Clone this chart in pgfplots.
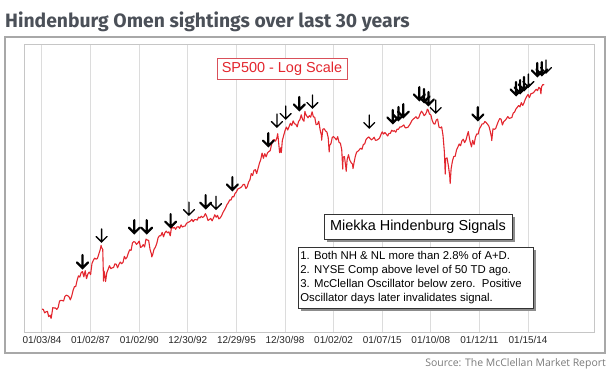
\documentclass[border=0pt]{standalone}
\usepackage{pgfplots}
\pgfplotsset{compat=1.18}
\usepackage{pgfplotstable}
\usepackage{fontspec}
\setmainfont{Liberation Sans}
\newfontfamily\titlefont{Fira Sans}
\newfontfamily\srcfont{Open Sans}
\definecolor{spred}{HTML}{E3262E}
\definecolor{boxred}{HTML}{D9505A}
\definecolor{titlegray}{HTML}{4B5058}
\definecolor{gridgray}{HTML}{DCDCDC}
\definecolor{framegray}{HTML}{A8A8A8}
\definecolor{srcgray}{HTML}{7A7A7A}

\pgfdeclareplotmark{dnarrow}{%
  \pgfpathmoveto{\pgfqpoint{0pt}{0.8pt}}\pgfpathlineto{\pgfqpoint{0pt}{13pt}}%
  \pgfpathmoveto{\pgfqpoint{-5.5pt}{5.5pt}}\pgfpathlineto{\pgfqpoint{0pt}{0pt}}\pgfpathlineto{\pgfqpoint{5.5pt}{5.5pt}}%
  \pgfusepathqstroke}

\pgfplotstableread{
yr mo v
1984 0.1 164.0
1984 1 163.4
1984 2 157.1
1984 3 159.2
1984 4 160.1
1984 5 150.6
1984 6 153.2
1984 6.75 147.8
1984 7 150.7
1984 8 166.7
1984 9 166.1
1984 10 166.1
1984 11 163.6
1984 12 167.2
1985 1 179.6
1985 2 181.2
1985 3 180.7
1985 4 179.8
1985 5 189.6
1985 6 191.9
1985 7 190.9
1985 8 188.6
1985 9 182.1
1985 10 189.8
1985 11 202.2
1985 12 211.3
1986 1 211.8
1986 2 226.9
1986 3 238.9
1986 4 235.5
1986 5 247.4
1986 6 250.8
1986 7 236.1
1986 8 252.9
1986 9 231.3
1986 10 244.0
1986 11 249.2
1986 12 242.2
1987 1 274.1
1987 2 284.2
1987 3 291.7
1987 4 288.4
1987 5 290.1
1987 6 304.0
1987 7 318.7
1987 7.8 336.8
1987 8 329.8
1987 9 321.8
1987 9.6 224.8
1987 10 251.8
1987 11 230.3
1987 11.1 223.9
1987 12 247.1
1988 1 257.1
1988 2 267.8
1988 3 258.9
1988 4 261.3
1988 5 262.2
1988 6 273.5
1988 7 272.0
1988 8 261.5
1988 9 271.9
1988 10 279.0
1988 11 273.7
1988 12 277.7
1989 1 297.5
1989 2 288.9
1989 3 294.9
1989 4 309.6
1989 5 320.5
1989 6 318.0
1989 7 346.1
1989 8 351.5
1989 9 349.2
1989 10 340.4
1989 11 346.0
1989 12 353.4
1990 1 329.1
1990 2 331.9
1990 3 339.9
1990 4 330.8
1990 5 361.2
1990 6 358.0
1990 7 356.2
1990 8 322.6
1990 9 306.1
1990 9.35 295.5
1990 10 304.0
1990 11 322.2
1990 12 330.2
1991 1 343.9
1991 2 367.1
1991 3 375.2
1991 4 375.3
1991 5 389.8
1991 6 371.2
1991 7 387.8
1991 8 395.4
1991 9 387.9
1991 10 392.5
1991 11 375.2
1991 12 417.1
1992 1 408.8
1992 2 412.7
1992 3 403.7
1992 4 415.0
1992 5 415.4
1992 6 408.1
1992 7 424.2
1992 8 414.0
1992 9 417.8
1992 10 418.7
1992 11 431.4
1992 12 435.7
1993 1 438.8
1993 2 443.4
1993 3 451.7
1993 4 440.2
1993 5 450.2
1993 6 450.5
1993 7 448.1
1993 8 463.6
1993 9 458.9
1993 10 467.8
1993 11 461.8
1993 12 466.5
1994 1 481.6
1994 2 467.1
1994 3 445.8
1994 4 450.9
1994 5 456.5
1994 6 444.3
1994 7 458.3
1994 8 475.5
1994 9 462.7
1994 10 472.4
1994 11 453.7
1994 12 459.3
1995 1 470.4
1995 2 487.4
1995 3 500.7
1995 4 514.7
1995 5 533.4
1995 6 544.8
1995 7 562.1
1995 8 561.9
1995 9 584.4
1995 10 581.5
1995 11 605.4
1995 12 615.9
1996 1 636.0
1996 2 640.4
1996 3 645.5
1996 4 654.2
1996 5 669.1
1996 6 670.6
1996 7 640.0
1996 8 652.0
1996 9 687.3
1996 10 705.3
1996 11 757.0
1996 12 740.7
1997 1 786.2
1997 2 790.8
1997 3 757.1
1997 4 801.3
1997 5 848.3
1997 6 885.1
1997 7 954.3
1997 8 899.5
1997 9 947.3
1997 10 914.6
1997 11 955.4
1997 12 970.4
1998 1 980.3
1998 2 1049.3
1998 3 1101.8
1998 4 1111.8
1998 5 1090.8
1998 6 1133.8
1998 6.55 1186.8
1998 7 1120.7
1998 8 957.3
1998 9 1017.0
1998 9.25 959.4
1998 10 1098.7
1998 11 1163.6
1998 12 1229.2
1999 1 1279.6
1999 2 1238.3
1999 3 1286.4
1999 4 1335.2
1999 5 1301.8
1999 6 1372.7
1999 7 1328.7
1999 8 1320.4
1999 9 1282.7
1999 10 1362.9
1999 11 1388.9
1999 12 1469.3
2000 1 1394.5
2000 2 1366.4
2000 2.75 1527.0
2000 3 1498.6
2000 4 1452.4
2000 5 1420.6
2000 6 1454.6
2000 7 1430.8
2000 8 1517.7
2000 8.03 1520.8
2000 9 1436.5
2000 10 1429.4
2000 11 1315.2
2000 12 1320.3
2001 1 1366.0
2001 2 1239.9
2001 3 1160.3
2001 3.1 1103.0
2001 4 1249.5
2001 5 1255.8
2001 6 1224.4
2001 7 1211.2
2001 8 1133.6
2001 8.7 965.8
2001 9 1040.9
2001 10 1059.8
2001 11 1139.5
2001 12 1148.1
2002 1 1130.2
2002 2 1106.7
2002 3 1147.4
2002 4 1076.9
2002 5 1067.1
2002 6 989.8
2002 6.75 797.7
2002 7 911.6
2002 8 916.1
2002 9 815.3
2002 9.3 776.8
2002 10 885.8
2002 11 936.3
2002 12 879.8
2003 1 855.7
2003 2 841.2
2003 2.35 800.7
2003 3 848.2
2003 4 916.9
2003 5 963.6
2003 6 974.5
2003 7 990.3
2003 8 1008.0
2003 9 996.0
2003 10 1050.7
2003 11 1058.2
2003 12 1111.9
2004 1 1131.1
2004 2 1144.9
2004 3 1126.2
2004 4 1107.3
2004 5 1120.7
2004 6 1140.8
2004 7 1101.7
2004 8 1104.2
2004 9 1114.6
2004 10 1130.2
2004 11 1173.8
2004 12 1211.9
2005 1 1181.3
2005 2 1203.6
2005 3 1180.6
2005 4 1156.9
2005 5 1191.5
2005 6 1191.3
2005 7 1234.2
2005 8 1220.3
2005 9 1228.8
2005 10 1207.0
2005 11 1249.5
2005 12 1248.3
2006 1 1280.1
2006 2 1280.7
2006 3 1294.9
2006 4 1310.6
2006 5 1270.1
2006 6 1270.2
2006 7 1276.7
2006 8 1303.8
2006 9 1335.9
2006 10 1377.9
2006 11 1400.6
2006 12 1418.3
2007 1 1438.2
2007 2 1406.8
2007 3 1420.9
2007 4 1482.4
2007 5 1530.6
2007 6 1503.4
2007 7 1455.3
2007 8 1474.0
2007 9 1526.8
2007 9.3 1565.0
2007 10 1549.4
2007 11 1481.1
2007 12 1468.4
2008 1 1378.6
2008 2 1330.6
2008 3 1322.7
2008 4 1385.6
2008 5 1400.4
2008 6 1280.0
2008 7 1267.4
2008 8 1282.8
2008 9 1166.4
2008 10 968.8
2008 10.65 752.4
2008 11 896.2
2008 12 903.3
2009 1 825.9
2009 2 735.1
2009 2.3 676.5
2009 3 797.9
2009 4 872.8
2009 5 919.1
2009 6 919.3
2009 7 987.5
2009 8 1020.6
2009 9 1057.1
2009 10 1036.2
2009 11 1095.6
2009 12 1115.1
2010 1 1073.9
2010 2 1104.5
2010 3 1169.4
2010 3.75 1217.0
2010 4 1186.7
2010 5 1089.4
2010 6 1030.7
2010 6.05 1022.6
2010 7 1101.6
2010 8 1049.3
2010 9 1141.2
2010 10 1183.3
2010 11 1180.6
2010 12 1257.6
2011 1 1286.1
2011 2 1327.2
2011 3 1325.8
2011 4 1363.6
2011 5 1345.2
2011 6 1320.6
2011 7 1292.3
2011 8 1218.9
2011 9 1131.4
2011 9.1 1099.2
2011 10 1253.3
2011 11 1247.0
2011 12 1257.6
2012 1 1312.4
2012 2 1365.7
2012 3 1408.5
2012 4 1397.9
2012 5 1310.3
2012 6 1362.2
2012 7 1379.3
2012 8 1406.6
2012 9 1440.7
2012 10 1412.2
2012 11 1416.2
2012 12 1426.2
2013 1 1498.1
2013 2 1514.7
2013 3 1569.2
2013 4 1597.6
2013 5 1630.7
2013 6 1606.3
2013 7 1685.7
2013 8 1633.0
2013 9 1681.6
2013 10 1756.5
2013 11 1805.8
2013 12 1848.4
2014 1 1782.6
2014 2 1859.5
2014 3 1872.3
2014 4 1884.0
2014 5 1923.6
2014 6 1960.2
2014 7 1930.7
2014 8 2003.4
2014 9 1972.3
2014 9.5 1862.5
2014 10 2018.1
2014 11 2067.6
2014 12 2058.9
}\spx

\pgfplotstableread{
x v
1986.50 261
1989.70 387
1990.46 387
1991.94 414
1994.10 513
1995.75 629
1997.97 1033
1999.88 1552
2005.65 1340
2006.00 1386
2006.30 1433
2007.29 1737
2007.58 1698
2007.85 1642
2010.90 1386
2013.26 1838
2013.51 1880
2013.75 1945
2014.57 2277
2014.85 2303
}\boldsig

\pgfplotstableread{
x v
1987.68 350
1993.07 474
1994.74 507
1998.50 1280
1999.04 1402
2000.69 1587
2004.20 1266
2008.30 1500
2014.02 2011
2015.11 2355
}\thinsig

\begin{document}
\begin{tikzpicture}[x=1bp,y=1bp]
\useasboundingbox (0,0) rectangle (613,372);
% title
\node[anchor=base west, inner sep=0pt, text=titlegray, font=\titlefont\bfseries\fontsize{19.4}{23}\selectfont] at (5,345) {Hindenburg Omen sightings over last 30 years};
% outer frame
\draw[framegray, line width=1.2bp] (5,19) rectangle (605,335);
\begin{axis}[
  at={(24bp,39bp)}, anchor=south west,
  width=570bp, height=288bp, scale only axis,
  xmin=1982.89, xmax=2018.07,
  ymode=log, ymin=125.3, ymax=3230,
  ytick=\empty,
  xtick={1984,1987,1990,1993,1996,1999,2002,2005,2008,2011,2014},
  xticklabels={01/03/84,01/02/87,01/02/90,12/30/92,12/29/95,12/30/98,01/02/02,01/07/15,01/10/08,01/12/11,01/15/14},
  xticklabel style={font=\fontsize{10}{12}\selectfont, text=black!85},
  major tick length=0pt,
  xmajorgrids, grid style={gridgray, line width=1bp},
  axis line style={draw=gridgray!90!black, line width=1bp},
  clip=false,
]
\addplot[spred, line width=1.1bp, line join=round] table[x expr=\thisrow{yr}+\thisrow{mo}/12, y=v] {\spx};
\addplot[only marks, mark=dnarrow, mark options={line width=2.2bp, line cap=round, line join=miter, black}] table[x=x, y=v] {\boldsig};
\addplot[only marks, mark=dnarrow, mark options={line width=1.3bp, line cap=round, black}] table[x=x, y=v] {\thinsig};
\end{axis}
% SP500 box
\node[draw=boxred, line width=0.8bp, fill=white, text=spred, minimum width=130bp, minimum height=21bp, inner sep=2bp, font=\fontsize{14.5}{16}\selectfont] at (282,303.5) {SP500 - Log Scale};
% Miekka box with shadow
\fill[black!45] (327,130) rectangle (515,155);
\node[draw=black!80, line width=0.8bp, fill=white, minimum width=188bp, minimum height=25bp, inner sep=2bp, font=\fontsize{14.5}{16}\selectfont] at (418,145.5) {Miekka Hindenburg Signals};
% rules box with shadow
\fill[black!45] (301,61) rectangle (536,122);
\node[draw=black!80, line width=0.8bp, fill=white, anchor=north west, minimum width=235bp, minimum height=61bp, inner sep=0pt, align=left] at (298,125) {%
  \begin{minipage}[c][61bp][c]{231bp}\fontsize{11.4}{14}\selectfont
  1. Both NH \& NL more than 2.8\% of A+D.\\
  2. NYSE Comp above level of 50 TD ago.\\
  3. McClellan Oscillator below zero.\ \ Positive\\
  Oscillator days later invalidates signal.
  \end{minipage}};
% source
\node[anchor=base east, inner sep=0pt, text=srcgray, font=\srcfont\fontsize{10.5}{12}\selectfont] at (606,6) {Source: The McClellan Market Report};
\end{tikzpicture}
\end{document}
